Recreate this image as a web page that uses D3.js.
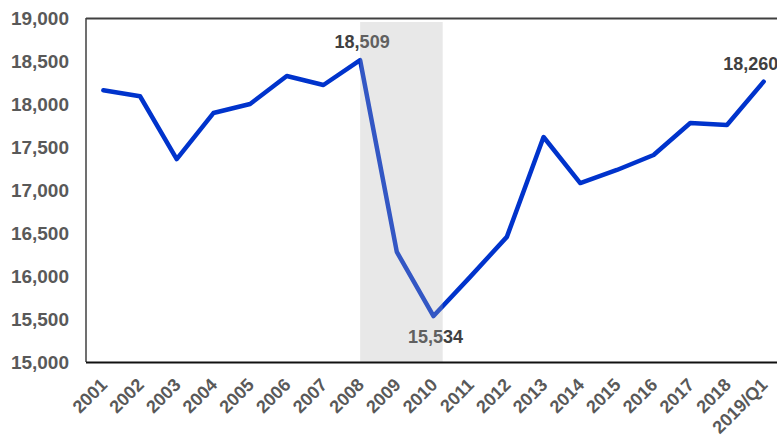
<!DOCTYPE html>
<html><head><meta charset="utf-8">
<script src="https://cdn.jsdelivr.net/npm/d3@7"></script>
<style>body{margin:0;background:#fff}svg{display:block}</style>
</head><body><svg id="c" width="777" height="438"></svg>
<script>
const categories = ["2001","2002","2003","2004","2005","2006","2007","2008","2009","2010","2011","2012","2013","2014","2015","2016","2017","2018","2019/Q1"];
const values = [18160,18090,17360,17895,18000,18326,18221,18509,16280,15534,15990,16455,17616,17081,17233,17407,17779,17756,18260];
const yTicks = [15000,15500,16000,16500,17000,17500,18000,18500,19000];
const labelled = ["2008","2010","2019/Q1"];
const shadeFrom = "2008", shadeTo = "2010";

const svg = d3.select("#c");
const L = 86, R = 782, T = 18, B = 362;
const x = d3.scaleBand().domain(categories).range([L - 1, R]);
const cx = d => x(d) + x.bandwidth() / 2;
const y = d3.scaleLinear().domain([15000, 19000]).range([B, T]);
const font = "'Liberation Sans', Arial, sans-serif";

// line
const line = d3.line().x((d, i) => cx(categories[i])).y(d => y(d));
svg.append("path").datum(values).attr("d", line)
  .attr("fill", "none").attr("stroke", "#0033CC").attr("stroke-width", 4.5)
  .attr("stroke-linejoin", "round").attr("stroke-linecap", "round");

// data labels
const lab = svg.append("g").attr("font-family", font).attr("font-weight", "bold")
  .attr("font-size", "18px").attr("fill", "#404040").attr("text-anchor", "middle");
labelled.forEach(c => {
  const i = categories.indexOf(c);
  const v = values[i];
  const above = c !== "2010";
  lab.append("text").attr("x", c === "2019/Q1" ? cx(c) - 13 : cx(c) + 2)
    .attr("y", above ? y(v) - 12 : y(v) + 27)
    .text(d3.format(",")(v));
});

// shade overlay
svg.append("rect").attr("x", cx(shadeFrom)).attr("y", 22)
  .attr("width", cx(shadeTo) + x.bandwidth() * 0.25 - cx(shadeFrom)).attr("height", B - 22)
  .attr("fill", "rgb(175,175,175)").attr("fill-opacity", 0.29);

// frame
svg.append("line").attr("x1", L).attr("x2", 777).attr("y1", T + 0.5).attr("y2", T + 0.5)
  .attr("stroke", "#404040").attr("stroke-width", 2);
svg.append("line").attr("x1", L).attr("x2", L).attr("y1", T).attr("y2", B)
  .attr("stroke", "#404040").attr("stroke-width", 1.5);

// y axis
const yAxis = d3.axisLeft(y).tickValues(yTicks).tickFormat(d3.format(",")).tickSize(0).tickPadding(0);
const ga = svg.append("g").attr("transform", `translate(${L - 17},0)`).call(yAxis);
ga.select(".domain").remove();
ga.selectAll("text").attr("font-family", font).attr("font-weight", "bold")
  .attr("font-size", "19px").attr("fill", "#595959");

// x axis
const xAxis = d3.axisBottom(x).tickSize(0).tickPadding(0);
const gx = svg.append("g").attr("transform", `translate(0,${B})`).call(xAxis);
gx.select(".domain").remove();
gx.selectAll("text").attr("font-family", font).attr("font-weight", "bold")
  .attr("font-size", "18px").attr("fill", "#595959")
  .attr("text-anchor", "end").attr("dy", 0).attr("y", 0)
  .attr("transform", "translate(5,24) rotate(-45)");
svg.append("line").attr("x1", L).attr("x2", 777).attr("y1", B + 0.5).attr("y2", B + 0.5)
  .attr("stroke", "#111").attr("stroke-width", 2);
</script></body></html>
